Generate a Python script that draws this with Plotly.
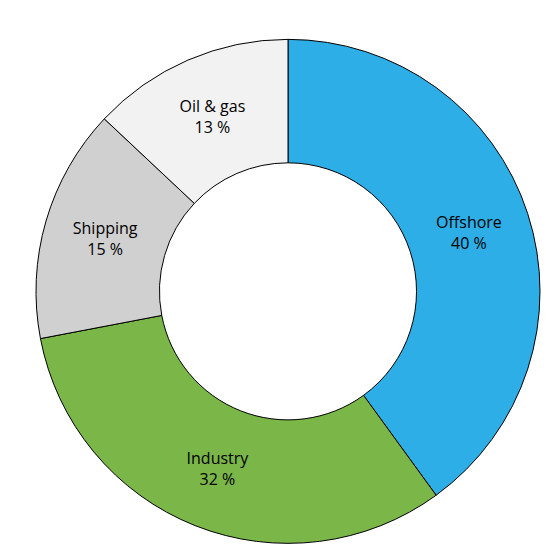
import plotly.graph_objects as go

labels = ["Offshore", "Industry", "Shipping", "Oil & gas"]
values = [40, 32, 15, 13]
colors = ["#2eaee6", "#7ab648", "#d0d0d0", "#f2f2f2"]

fig = go.Figure(go.Pie(
    labels=labels, values=values, sort=False, direction="clockwise", rotation=0,
    hole=0.51, marker=dict(colors=colors, line=dict(color="black", width=1)),
    texttemplate="%{label}<br>%{value} %", textposition="inside",
    insidetextorientation="horizontal",
    textfont=dict(family="Open Sans", size=16, color="black"),
    domain=dict(x=[0.05, 0.95], y=[0.036, 0.952]), showlegend=False,
))
fig.update_layout(width=560, height=560, margin=dict(l=0, r=0, t=0, b=0),
                  paper_bgcolor="white")
fig.write_html("out.html")
